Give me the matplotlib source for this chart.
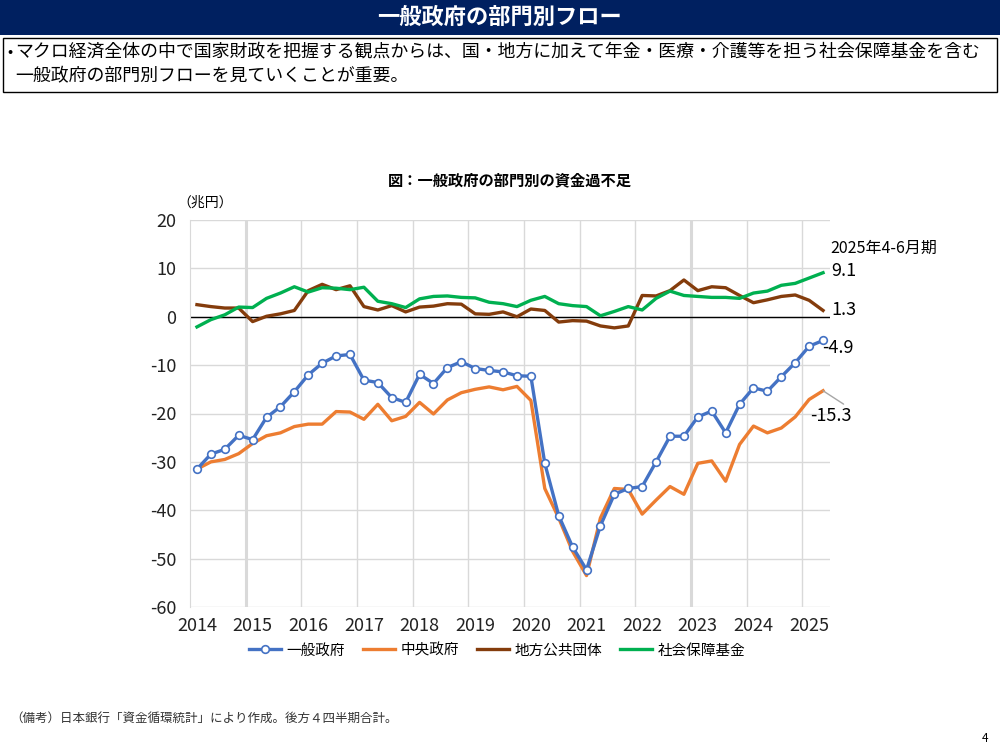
import numpy as np
import matplotlib
matplotlib.use("Agg")
import matplotlib.pyplot as plt
from matplotlib.patches import Rectangle

plt.rcParams['font.family'] = ['Noto Sans CJK JP', 'DejaVu Sans']
plt.rcParams['axes.unicode_minus'] = False

# quarterly, 2014 Q1 .. 2025 Q2 (後方4四半期合計, 兆円)
year_labels = ['2014', '2015', '2016', '2017', '2018', '2019',
               '2020', '2021', '2022', '2023', '2024', '2025']

general_gov = [-31.5, -28.4, -27.4, -24.5, -25.4, -20.8, -18.6, -15.5, -12.0, -9.6,
               -8.1, -7.8, -13.1, -13.6, -16.7, -17.7, -11.9, -13.8, -10.5, -9.3,
               -10.7, -11.1, -11.4, -12.2, -12.3, -30.3, -41.1, -47.6, -52.3, -43.2,
               -36.7, -35.5, -35.1, -30.0, -24.7, -24.7, -20.7, -19.5, -24.0, -18.1,
               -14.7, -15.4, -12.4, -9.5, -6.1, -4.9]
central_gov = [-31.5, -30.0, -29.5, -28.3, -26.2, -24.6, -24.0, -22.7, -22.2, -22.2,
               -19.6, -19.7, -21.2, -18.1, -21.5, -20.6, -17.7, -20.1, -17.2, -15.7,
               -15.0, -14.5, -15.1, -14.4, -17.3, -35.5, -41.6, -48.5, -53.5, -41.6,
               -35.5, -35.7, -40.8, -37.9, -35.1, -36.7, -30.3, -29.8, -34.0, -26.4,
               -22.6, -24.0, -23.0, -20.7, -17.1, -15.3]
local_gov = [2.5, 2.1, 1.8, 1.8, -1.0, 0.1, 0.6, 1.3, 5.4, 6.7,
             5.6, 6.4, 2.1, 1.4, 2.3, 1.0, 2.0, 2.2, 2.7, 2.6,
             0.6, 0.5, 1.0, 0.0, 1.6, 1.3, -1.1, -0.8, -0.9, -1.9,
             -2.3, -1.9, 4.4, 4.3, 5.4, 7.6, 5.4, 6.2, 6.0, 4.4,
             2.9, 3.5, 4.2, 4.5, 3.4, 1.3]
social_sec = [-2.1, -0.6, 0.4, 2.0, 1.9, 3.8, 4.9, 6.2, 5.1, 6.0,
              5.9, 5.6, 6.1, 3.2, 2.7, 1.9, 3.7, 4.2, 4.3, 4.0,
              3.9, 3.0, 2.7, 2.1, 3.4, 4.2, 2.7, 2.3, 2.1, 0.2,
              1.1, 2.1, 1.4, 3.8, 5.3, 4.4, 4.2, 4.0, 4.0, 3.8,
              4.9, 5.3, 6.5, 6.9, 8.0, 9.1]

x = np.arange(len(general_gov))

fig = plt.figure(figsize=(10, 7.5), dpi=100)

# header bar
fig.patches.append(Rectangle((0, 1 - 35 / 750), 1, 35 / 750, transform=fig.transFigure,
                             facecolor='#002060', edgecolor='none', zorder=0))
fig.text(0.5, 1 - 17 / 750, '一般政府の部門別フロー', color='white', fontsize=16,
         fontweight='bold', ha='center', va='center')

# bullet box
fig.patches.append(Rectangle((3 / 1000, 1 - 92 / 750), 994 / 1000, 54 / 750,
                             transform=fig.transFigure, facecolor='white',
                             edgecolor='black', linewidth=1, zorder=0))
fig.text(7 / 1000, 1 - 52 / 750, '•', fontsize=11, ha='left', va='center')
fig.text(15 / 1000, 1 - 52 / 750,
         'マクロ経済全体の中で国家財政を把握する観点からは、国・地方に加えて年金・医療・介護等を担う社会保障基金を含む',
         fontsize=12.9, ha='left', va='center')
fig.text(15 / 1000, 1 - 76 / 750, '一般政府の部門別フローを見ていくことが重要。',
         fontsize=12.9, ha='left', va='center')

ax = fig.add_axes([0.19, 1 - 607 / 750, 0.64, 387 / 750])

ax.plot(x, central_gov, color='#ED7D31', lw=2.4, label='中央政府', zorder=3)
ax.plot(x, local_gov, color='#843C0C', lw=2.4, label='地方公共団体', zorder=3)
ax.plot(x, social_sec, color='#00B050', lw=2.4, label='社会保障基金', zorder=3)
ax.plot(x, general_gov, color='#4472C4', lw=2.4, marker='o', markersize=5.5,
        markerfacecolor='white', markeredgecolor='#4472C4', markeredgewidth=1.2,
        label='一般政府', zorder=4)

ax.set_xlim(-0.5, len(x) - 0.5)
ax.set_ylim(-60, 20)
ax.set_yticks(np.arange(-60, 21, 10))
ax.set_xticks(np.arange(0, len(x), 4))
ax.set_xticklabels(year_labels)
ax.tick_params(axis='both', length=0, labelsize=13, colors='#222222')
ax.tick_params(axis='x', pad=7)
ax.tick_params(axis='y', pad=10)

ax.grid(axis='y', color='#D9D9D9', lw=1)
for b in np.arange(3.5, len(x) - 1, 4):
    wide = b in (3.5, 35.5)
    ax.axvline(b, color='#D9D9D9', lw=2.2 if wide else 1, zorder=1)
ax.axhline(0, color='black', lw=1, zorder=2)
for s in ['top', 'right', 'bottom']:
    ax.spines[s].set_visible(False)
ax.spines['left'].set_color('#D9D9D9')
ax.set_axisbelow(True)

ax.set_title('図：一般政府の部門別の資金過不足', fontsize=11, fontweight='bold', pad=25)
ax.text(-0.02, 1.045, '（兆円）', transform=ax.transAxes, fontsize=10, ha='left', va='center')

# end labels
last = len(x) - 1
ax.text(last + 0.5, 14.2, '2025年4-6月期', fontsize=11.5, ha='left', va='center')
ax.text(last + 0.6, social_sec[-1] + 0.3, f'{social_sec[-1]:.1f}', fontsize=13, ha='left', va='center')
ax.text(last + 0.6, local_gov[-1], f'{local_gov[-1]:.1f}', fontsize=13, ha='left', va='center')
ax.text(last - 0.1, general_gov[-1] - 1.6, f'{general_gov[-1]:.1f}', fontsize=13,
        ha='left', va='center')
ax.annotate(f'{central_gov[-1]:.1f}', xy=(last, central_gov[-1]), xytext=(last - 0.9, -20.5),
            fontsize=13, ha='left', va='center', annotation_clip=False,
            arrowprops=dict(arrowstyle='-', color='#A6A6A6', lw=1,
                            shrinkA=0, shrinkB=0, relpos=(0.9, 1.0)))

handles, labels = ax.get_legend_handles_labels()
order = [3, 0, 1, 2]
ax.legend([handles[i] for i in order], [labels[i] for i in order], loc='upper center',
          bbox_to_anchor=(0.48, -0.06), ncol=4, frameon=False, fontsize=10.5,
          handlelength=2.2, columnspacing=1.2, handletextpad=0.4)

fig.text(10 / 1000, 1 - 718 / 750, '（備考）日本銀行「資金循環統計」により作成。後方４四半期合計。',
         fontsize=9, ha='left', va='center', color='#333333')
fig.text(985 / 1000, 1 - 738 / 750, '4', fontsize=8.5, ha='center', va='center')

fig.savefig('out.png', dpi=100)
